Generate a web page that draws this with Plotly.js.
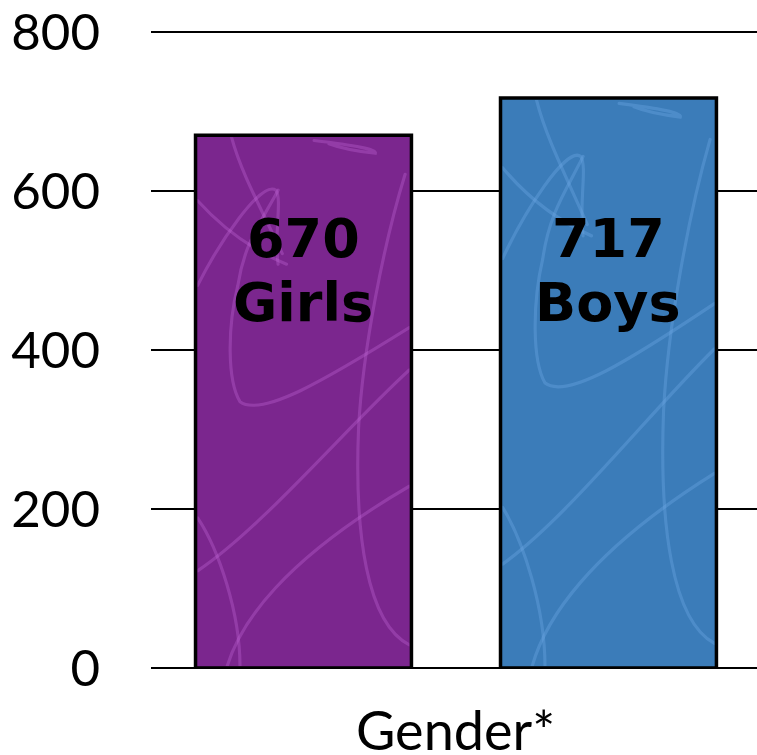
<!DOCTYPE html>
<html>
<head>
<meta charset="utf-8">
<script src="https://cdn.plot.ly/plotly-3.0.1.min.js"></script>
<style>
  html, body { margin: 0; padding: 0; background: #ffffff; }
  #chart { width: 757px; height: 755px; }
</style>
</head>
<body>
<div id="chart"></div>
<script>
// Enrolment by gender
const categories = ['Girls', 'Boys'];
const counts = [670, 717];
const barColors = ['#7B268E', '#3B7CB9'];
const yTicks = [0, 200, 400, 600, 800];
const xTitle = 'Gender*';

const BAR_WIDTH = 0.708;
const xPos = categories.map((_, i) => i);

// Decorative squiggle texture laid over each bar, drawn in a unit square (0..100)
// and scaled to the texture tile before use.
const squiggles = [
  'M16,0 C20,6 28,12 40,22',
  'M0,12 Q18,20 42,24',
  'M0,28 C10,20 30,8 37,10 C40,12 36,18 38,24',
  'M55,0.6 Q85,2 84,3 Q70,2.4 62,1.2',
  'M38,10 C30,16 22,20 19,28 C14,36 14,46 20,50 C30,53 60,46 100,36',
  'M98,7 C88,20 78,40 76,55 C74,75 80,92 100,96',
  'M0,82 C30,74 70,55 100,44',
  'M14,100 C20,92 40,80 100,66',
  'M0,72 C10,78 20,90 20,100'
];
const TILE_W = 216, TILE_H = 532;
function scalePath(d) {
  return d.replace(/(-?[\d.]+),(-?[\d.]+)/g, (m, a, b) =>
    (parseFloat(a) * TILE_W / 100).toFixed(1) + ',' + (parseFloat(b) * TILE_H / 100).toFixed(1));
}
function textureFor(color) {
  const paths = squiggles.map(d =>
    '<path d="' + scalePath(d) + '" fill="none" stroke="' + color +
    '" stroke-width="3.2" stroke-linecap="round"/>'
  ).join('');
  const svg = '<svg xmlns="http://www.w3.org/2000/svg" width="' + TILE_W + '" height="' + TILE_H +
    '" viewBox="0 0 ' + TILE_W + ' ' + TILE_H + '" preserveAspectRatio="none">' + paths + '</svg>';
  return 'data:image/svg+xml;charset=utf-8,' + encodeURIComponent(svg);
}
const textureColors = ['rgba(200,110,220,0.32)', 'rgba(110,170,230,0.36)'];

const trace = {
  type: 'bar',
  x: xPos,
  y: counts,
  width: BAR_WIDTH,
  marker: {
    color: barColors,
    line: { color: '#000000', width: 3.5 }
  },
  hoverinfo: 'none'
};

const images = xPos.map(i => ({
  source: textureFor(textureColors[i]),
  xref: 'x', yref: 'y',
  x: i - BAR_WIDTH / 2 + 0.007,
  y: counts[i] - 2.5,
  sizex: BAR_WIDTH - 0.014,
  sizey: counts[i] - 5,
  xanchor: 'left', yanchor: 'top',
  sizing: 'stretch',
  layer: 'above'
}));

const labelFont = { family: 'DejaVu Sans, Verdana, sans-serif', size: 54, color: '#000000' };
const annotations = [];
xPos.forEach(i => {
  annotations.push({
    xref: 'x', yref: 'y', x: i, y: 540,
    text: '<b>' + counts[i] + '</b>', showarrow: false,
    xanchor: 'center', yanchor: 'middle', font: labelFont
  });
  annotations.push({
    xref: 'x', yref: 'y', x: i, y: 460,
    text: '<b>' + categories[i] + '</b>', showarrow: false,
    xanchor: 'center', yanchor: 'middle', font: labelFont
  });
});
// Axis title under the plot
annotations.push({
  xref: 'paper', yref: 'paper', x: 0.503, y: 0,
  text: xTitle, showarrow: false,
  xanchor: 'center', yanchor: 'top', yshift: -27,
  font: { family: 'Lato, sans-serif', size: 54, color: '#000000' }
});

const layout = {
  width: 757,
  height: 755,
  margin: { l: 151, r: 0, t: 28, b: 87, pad: 0 },
  paper_bgcolor: '#ffffff',
  plot_bgcolor: '#ffffff',
  showlegend: false,
  font: { family: 'Lato, sans-serif', color: '#000000' },
  xaxis: {
    range: [-0.5, 1.487],
    showticklabels: false,
    showgrid: false,
    zeroline: false,
    showline: false,
    ticks: '',
    fixedrange: true,
    automargin: false
  },
  yaxis: {
    range: [0, 805],
    tickvals: yTicks,
    ticktext: yTicks.map(String),
    showgrid: true,
    gridcolor: '#000000',
    gridwidth: 2,
    zeroline: true,
    zerolinecolor: '#000000',
    zerolinewidth: 2,
    showline: false,
    ticks: '',
    ticklabelstandoff: 50,
    ticklabeloverflow: 'allow',
    tickfont: { family: 'Lato, sans-serif', size: 51, color: '#000000' },
    fixedrange: true,
    automargin: false
  },
  images: images,
  annotations: annotations
};

Plotly.newPlot('chart', [trace], layout, { displayModeBar: false, staticPlot: true });
</script>
</body>
</html>
